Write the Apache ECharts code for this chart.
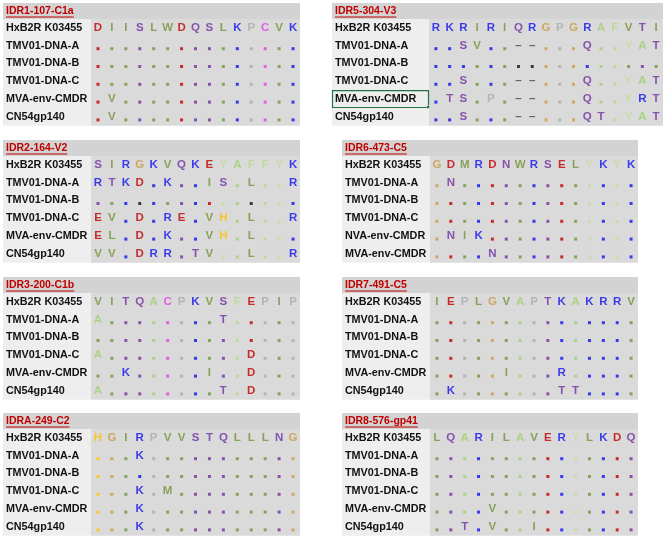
<!DOCTYPE html>
<html><head><meta charset="utf-8">
<script src="https://cdn.jsdelivr.net/npm/echarts@6/dist/echarts.min.js"></script>
<style>html,body{margin:0;padding:0;background:#fff}#c{width:669px;height:539px}</style>
</head><body><div id="c"></div>
<script>
// ---------------- DATA ----------------
const rowNamesStd = ['HxB2R K03455','TMV01-DNA-A','TMV01-DNA-B','TMV01-DNA-C','MVA-env-CMDR','CN54gp140'];
const rowNamesIdr6 = ['HxB2R K03455','TMV01-DNA-A','TMV01-DNA-B','TMV01-DNA-C','NVA-env-CMDR','MVA-env-CMDR'];

const idr1Title = 'IDR1-107-C1a';
const idr1Seq = [
  'D I I S L W D Q S L K P C V K',
  '. . . . . . . . . . . . . . .',
  '. . . . . . . . . . . . . . .',
  '. . . . . . . . . . . . . . .',
  '. V . . . . . . . . . . . . .',
  '. V . . . . . . . . . . . . .'];

const idr5Title = 'IDR5-304-V3';
const idr5Seq = [
  'R K R I R I Q R G P G R A F V T I',
  '. . S V . . – – . . . Q . . Y A T',
  '. . . . . . * * . . . . . . . . .',
  '. . S . . . – – . . . Q . . Y A T',
  '. T S . P . – – . . . Q . . Y R T',
  '. . S . . . – – . . . Q T . Y A T'];

const idr2Title = 'IDR2-164-V2';
const idr2Seq = [
  'S I R G K V Q K E Y A F F Y K',
  'R T K D . K . . I S . L . . R',
  '. . . * . . . . . . . * . . .',
  'E V . D . R E . V H . L . . R',
  'E L . D . K . . V H . L . . .',
  'V V . D R R . T V . . L . . R'];

const idr6Title = 'IDR6-473-C5';
const idr6Seq = [
  'G D M R D N W R S E L Y K Y K',
  '. N . . . . . . . . . . . . .',
  '. . . . . . . . . . . . . . .',
  '. . . . . . . . . . . . . . .',
  '. N I K . . . . . . . . . . .',
  '. . . . N . . . . . . . . . .'];

const idr3Title = 'IDR3-200-C1b';
const idr3Seq = [
  'V I T Q A C P K V S F E P I P',
  'A . . . . . . . . T . . . . .',
  '. . . . . . . . . . . . . . .',
  'A . . . . . . . . . . D . . .',
  '. . K . . . . . I . . D . . .',
  'A . . . . . . . . T . D . . .'];

const idr7Title = 'IDR7-491-C5';
const idr7Seq = [
  'I E P L G V A P T K A K R R V',
  '. . . . . . . . . . . . . . .',
  '. . . . . . . . . . . . . . .',
  '. . . . . . . . . . . . . . .',
  '. . . . . I . . . R . . . . .',
  '. K . . . . . . . T T . . . .'];

const idraTitle = 'IDRA-249-C2';
const idraSeq = [
  'H G I R P V V S T Q L L L N G',
  '. . . K . . . . . . . . . . .',
  '. . . . . . . . . . . . . . .',
  '. . . K . M . . . . . . . . .',
  '. . . K . . . . . . . . . . .',
  '. . . K . . . . . . . . . . .'];

const idr8Title = 'IDR8-576-gp41';
const idr8Seq = [
  'L Q A R I L A V E R Y L K D Q',
  '. . . . . . . . . . . . . . .',
  '. . . . . . . . . . . . . . .',
  '. . . . . . . . . . . . . . .',
  '. . . . V . . . . . . . . . .',
  '. . T . V . . I . . . . . . .'];

// ---------------- STYLE ----------------
const aaColor = {
  D:'#c00000', E:'#c00000',
  K:'#1010f0', R:'#1010f0',
  H:'#ffc000',
  S:'#7030a0', T:'#7030a0', Q:'#7030a0', N:'#7030a0',
  I:'#76923c', L:'#76923c', V:'#76923c', M:'#76923c', W:'#76923c',
  A:'#9fd071', F:'#b2db8a', Y:'#c6dc9c',
  G:'#c99a45', P:'#aaaaaa', C:'#e43ee4'
};
const FONT = '"Liberation Sans", Arial, sans-serif';
const TITLE_FONT = '"Liberation Sans Narrow", "Liberation Sans", Arial, sans-serif';
const colLeft  = {x0:3,   dl:91,  dr:300};
const colRight = {x0:342, dl:430, dr:638};
const colV3    = {x0:332, dl:429, dr:663};
const panelTops = [3, 140, 277, 413];
const titleH = 16, rowH = 17.8;

const panels = [
  {title:idr1Title, rows:rowNamesStd,  seq:idr1Seq, col:colLeft,  top:panelTops[0]},
  {title:idr5Title, rows:rowNamesStd,  seq:idr5Seq, col:colV3,    top:panelTops[0], box:4},
  {title:idr2Title, rows:rowNamesStd,  seq:idr2Seq, col:colLeft,  top:panelTops[1]},
  {title:idr6Title, rows:rowNamesIdr6, seq:idr6Seq, col:colRight, top:panelTops[1]},
  {title:idr3Title, rows:rowNamesStd,  seq:idr3Seq, col:colLeft,  top:panelTops[2]},
  {title:idr7Title, rows:rowNamesStd,  seq:idr7Seq, col:colRight, top:panelTops[2]},
  {title:idraTitle, rows:rowNamesStd,  seq:idraSeq, col:colLeft,  top:panelTops[3]},
  {title:idr8Title, rows:rowNamesStd,  seq:idr8Seq, col:colRight, top:panelTops[3]}
];

const measure = (() => { const c = document.createElement('canvas').getContext('2d');
  return (t, f) => { c.font = f; return c.measureText(t).width; }; })();

const grid=[], xAxis=[], yAxis=[], series=[], graphic=[];
panels.forEach((p, i) => {
  const {x0, dl, dr} = p.col;
  const ref = p.seq[0].split(' ');
  const rowsTop = p.top + titleH;
  const h = p.rows.length * rowH;
  // backgrounds
  graphic.push({type:'rect', z:-10, shape:{x:x0, y:p.top, width:dr-x0, height:titleH}, style:{fill:'#d3d3d3'}});
  graphic.push({type:'rect', z:-10, shape:{x:x0, y:rowsTop, width:dl-x0, height:h}, style:{fill:'#eeeeee'}});
  const tf = 'bold 10.5px ' + TITLE_FONT;
  graphic.push({type:'text', z:5, x:x0+3, y:p.top+titleH/2, style:{text:p.title, font:tf, fill:'#c00000', verticalAlign:'middle'}});
  const tw = measure(p.title, tf);
  graphic.push({type:'line', z:5, shape:{x1:x0+3, y1:p.top+titleH/2+6, x2:x0+3+tw, y2:p.top+titleH/2+6}, style:{stroke:'#c00000', lineWidth:1}});
  if (p.box !== undefined) {
    const by = rowsTop + p.box*rowH;
    graphic.push({type:'rect', z:6, shape:{x:x0+0.5, y:by+0.5, width:dl-x0-1, height:rowH-1}, style:{fill:'none', stroke:'#217346', lineWidth:1.2}});
    graphic.push({type:'rect', z:7, shape:{x:dl-2.5, y:by+rowH-2.5, width:3, height:3}, style:{fill:'#217346', stroke:'#fff', lineWidth:0.5}});
  }
  grid.push({left:dl, top:rowsTop, width:dr-dl, height:h, show:true, backgroundColor:'#dadada', borderWidth:0, containLabel:false});
  xAxis.push({type:'category', gridIndex:i, data:ref.map((_, k) => String(k)), show:false, boundaryGap:true});
  yAxis.push({type:'category', gridIndex:i, data:p.rows, inverse:true, boundaryGap:true,
    axisLine:{show:false}, axisTick:{show:false}, splitLine:{show:false},
    axisLabel:{show:true, align:'left', margin:dl-(x0+3), color:'#111', fontWeight:'bold', fontSize:10.8, fontFamily:FONT}});
  const letters=[], dots=[];
  p.seq.forEach((s, r) => {
    s.split(' ').forEach((ch, c) => {
      if (ch === '.' || ch === '*') {
        dots.push({value:[c, r], itemStyle:{color: ch === '*' ? '#111' : (aaColor[ref[c]] || '#333')}});
      } else {
        const color = ch === '–' ? '#404040' : (aaColor[ch] || '#333');
        letters.push({name:ch, value:[c, r], label:{color}});
      }
    });
  });
  series.push({type:'scatter', xAxisIndex:i, yAxisIndex:i, data:letters, symbolSize:1,
    itemStyle:{color:'transparent'}, silent:true,
    label:{show:true, position:'inside', formatter:'{b}', fontWeight:'bold', fontSize:11.5, fontFamily:FONT}});
  series.push({type:'scatter', xAxisIndex:i, yAxisIndex:i, data:dots, symbol:'rect', symbolSize:3,
    symbolOffset:[0, 3], silent:true});
});

const chart = echarts.init(document.getElementById('c'), null, {renderer:'canvas'});
chart.setOption({animation:false, backgroundColor:'#ffffff', grid, xAxis, yAxis, series, graphic});
</script></body></html>
